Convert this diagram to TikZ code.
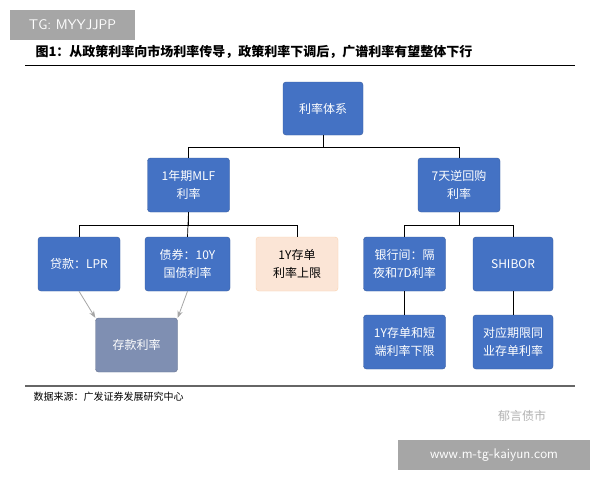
\documentclass[tikz,border=0pt]{standalone}
\usepackage{fontspec}
\setmainfont{Noto Sans CJK SC}
\usetikzlibrary{arrows.meta}
\definecolor{bl}{HTML}{4472C4}
\definecolor{pk}{HTML}{FBE5D6}
\definecolor{dp}{HTML}{7F8FB2}
\begin{document}
\begin{tikzpicture}[x=1pt,y=-1pt,
 bx/.style={draw=bl!80!black,fill=bl,rounded corners=3pt,text=white,font=\fontsize{12}{18}\selectfont,align=center,minimum width=82pt,minimum height=54pt,inner sep=1pt},
 ln/.style={draw=black,line width=0.7pt},
 ar/.style={draw=gray!70,line width=0.8pt,-{Stealth[length=7pt]}},
 wm/.style={fill=gray!70,text=white,font=\fontsize{14}{16}\selectfont\sffamily,inner sep=0pt}]
\useasboundingbox (0,0) rectangle (600,480);
\fill[white] (0,0) rectangle (600,480);
\node[wm,minimum width=125pt,minimum height=30pt] (tg) at (72.5,25) {TG: MYYJJPP};
\node[font=\bfseries\fontsize{13}{15}\selectfont,anchor=west] (title) at (32,52) {图1：从政策利率向市场利率传导，政策利率下调后，广谱利率有望整体下行};
\draw[line width=1pt] (25,65) coordinate (r1) -- (575,65) coordinate (r2);
\node[bx,minimum width=80pt,minimum height=53pt] (top) at (323,108.5) {利率体系};
\node[bx] (mlf) at (188.5,185) {1年期MLF\\利率};
\node[bx] (rr) at (459,185) {7天逆回购\\利率};
\node[bx] (lpr) at (79,264) {贷款：LPR};
\node[bx,minimum width=85pt] (bond) at (187.5,264) {债券：10Y\\国债利率};
\node[bx,fill=pk,draw=pk!80!orange,text=black] (cd) at (297,264) {1Y存单\\利率上限};
\node[bx] (ib) at (404.5,264) {银行间：隔\\夜和7D利率};
\node[bx,minimum width=80pt] (sh) at (513,264) {SHIBOR};
\node[bx,fill=dp,draw=dp!80!black] (dep) at (136.5,345) {存款利率};
\node[bx] (cd2) at (404.5,342) {1Y存单和短\\端利率下限};
\node[bx,minimum width=80pt] (cd3) at (513,342) {对应期限同\\业存单利率};
\draw[ln] (top.south) -- ++(0,12) -| (mlf.north);
\draw[ln] (top.south) -- ++(0,12) -| (rr.north);
\draw[ln] (mlf.south) -- ++(0,13) -| (lpr.north);
\draw[ln] (mlf.south) -- ++(0,13) -| (cd.north);
\draw[ln] (mlf.south) -- (bond.north);
\draw[ln] (rr.south) -- ++(0,13) -| (ib.north);
\draw[ln] (rr.south) -- ++(0,13) -| (sh.north);
\draw[ar] (lpr.south) -- (dep.north west);
\draw[ar] (bond.south) -- (dep.north east);
\draw[ln] (ib.south) -- (cd2.north);
\draw[ln] (sh.south) -- (cd3.north);
\draw[line width=1.2pt,gray!80!black] (25,386) -- (575,386);
\node[font=\fontsize{10}{12}\selectfont,anchor=west] (src) at (30,397) {数据来源：广发证券发展研究中心};
\node[font=\fontsize{12}{14}\selectfont,text=gray!60] (wx) at (522,416) {郁言债市};
\node[wm,minimum width=192pt,minimum height=30pt] (url) at (494,455) {www.m-tg-kaiyun.com};
\end{tikzpicture}
\end{document}
